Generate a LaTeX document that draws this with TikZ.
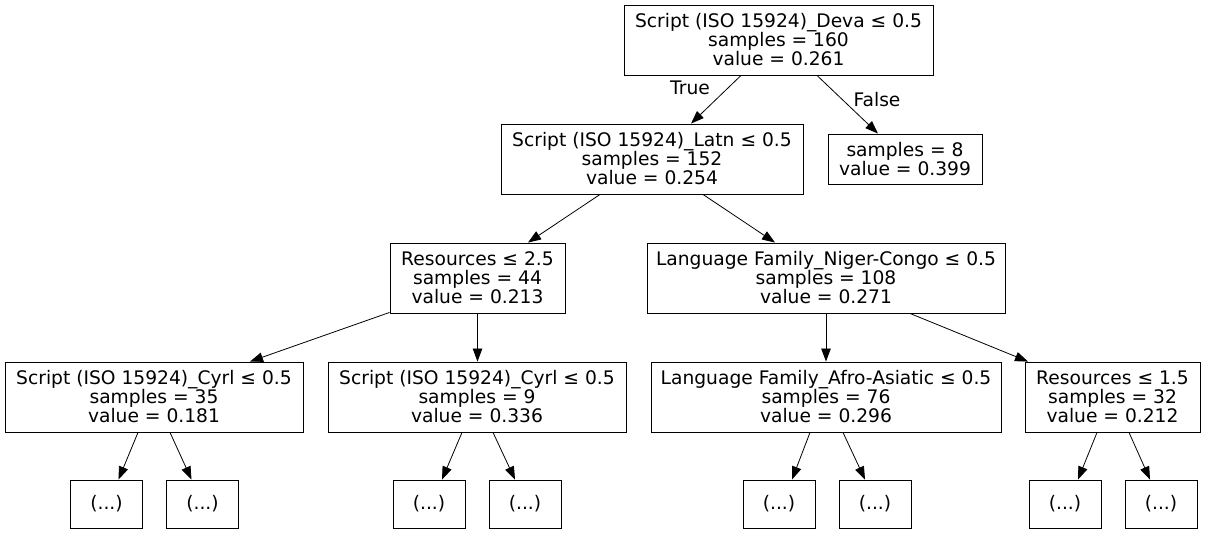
\documentclass[tikz,border=0pt]{standalone}
\usepackage{fontspec}
\setmainfont{DejaVu Sans}
\usetikzlibrary{arrows.meta,calc}
\begin{document}
\begin{tikzpicture}[x=1pt,y=-1pt,
  box/.style={draw=black,fill=white,line width=0.9pt,inner sep=0pt,align=center,
    minimum height=70pt,font=\fontsize{18.67}{19}\selectfont},
  leafbox/.style={box,minimum width=72pt,minimum height=48pt},
  edge/.style={line width=0.8pt,-{Triangle[length=13pt,width=9.5pt]}},
  elabel/.style={font=\fontsize{18.67}{19}\selectfont,inner sep=0pt}]
\useasboundingbox (0,0) rectangle (1206,533);
\fill[white] (0,0) rectangle (1206,533);
% nodes
\node[box,minimum width=309pt] (root) at (778.5,40) {Script (ISO 15924)\_Deva ≤ 0.5\\samples = 160\\value = 0.261};
\node[box,minimum width=302pt] (latn) at (652,159) {Script (ISO 15924)\_Latn ≤ 0.5\\samples = 152\\value = 0.254};
\node[box,minimum width=154pt,minimum height=50pt] (false) at (905,159) {samples = 8\\value = 0.399};
\node[box,minimum width=175pt] (resA) at (477.5,278) {Resources ≤ 2.5\\samples = 44\\value = 0.213};
\node[box,minimum width=358pt] (niger) at (826,278) {Language Family\_Niger-Congo ≤ 0.5\\samples = 108\\value = 0.271};
\node[box,minimum width=298pt] (cyrlA) at (154,397) {Script (ISO 15924)\_Cyrl ≤ 0.5\\samples = 35\\value = 0.181};
\node[box,minimum width=298pt] (cyrlB) at (477,397) {Script (ISO 15924)\_Cyrl ≤ 0.5\\samples = 9\\value = 0.336};
\node[box,minimum width=350pt] (afro) at (826,397) {Language Family\_Afro-Asiatic ≤ 0.5\\samples = 76\\value = 0.296};
\node[box,minimum width=175pt] (resB) at (1112.5,397) {Resources ≤ 1.5\\samples = 32\\value = 0.212};
\node[leafbox] (l1) at (106.5,504) {(...)};
\node[leafbox] (l2) at (202.5,504) {(...)};
\node[leafbox] (l3) at (429,504) {(...)};
\node[leafbox] (l4) at (525,504) {(...)};
\node[leafbox] (l5) at (779,504) {(...)};
\node[leafbox] (l6) at (875,504) {(...)};
\node[leafbox] (l7) at (1065,504) {(...)};
\node[leafbox] (l8) at (1161,504) {(...)};
% edges
\draw[edge] ($(root.south)+(-37.5,0)$) -- ($(latn.north)+(39,0)$);
\draw[edge] ($(root.south)+(38.5,0)$) -- ($(false.north)+(-27,0)$);
\draw[edge] ($(latn.south)+(-52,0)$) -- ($(resA.north)+(50.5,0)$);
\draw[edge] ($(latn.south)+(51,0)$) -- ($(niger.north)+(-51,0)$);
\draw[edge] ($(resA.south west)+(0,-1)$) -- ($(cyrlA.north)+(96,0)$);
\draw[edge] (resA.south) -- (resA.south |- cyrlB.north);
\draw[edge] (niger.south) -- (niger.south |- afro.north);
\draw[edge] ($(niger.south)+(84,0)$) -- ($(resB.north)+(-84.5,0)$);
\draw[edge] ($(cyrlA.south)+(-16,0)$) -- ($(l1.north)+(12,0)$);
\draw[edge] ($(cyrlA.south)+(16,0)$) -- ($(l2.north)+(-11,0)$);
\draw[edge] ($(cyrlB.south)+(-15,0)$) -- ($(l3.north)+(13,0)$);
\draw[edge] ($(cyrlB.south)+(16,0)$) -- ($(l4.north)+(-10,0)$);
\draw[edge] ($(afro.south)+(-16,0)$) -- ($(l5.north)+(13,0)$);
\draw[edge] ($(afro.south)+(17,0)$) -- ($(l6.north)+(-10,0)$);
\draw[edge] ($(resB.south)+(-15.5,0)$) -- ($(l7.north)+(13,0)$);
\draw[edge] ($(resB.south)+(16.5,0)$) -- ($(l8.north)+(-11,0)$);
% edge labels
\node[elabel] (tlab) at (690,88) {True};
\node[elabel] (flab) at (877,100) {False};
\end{tikzpicture}
\end{document}
